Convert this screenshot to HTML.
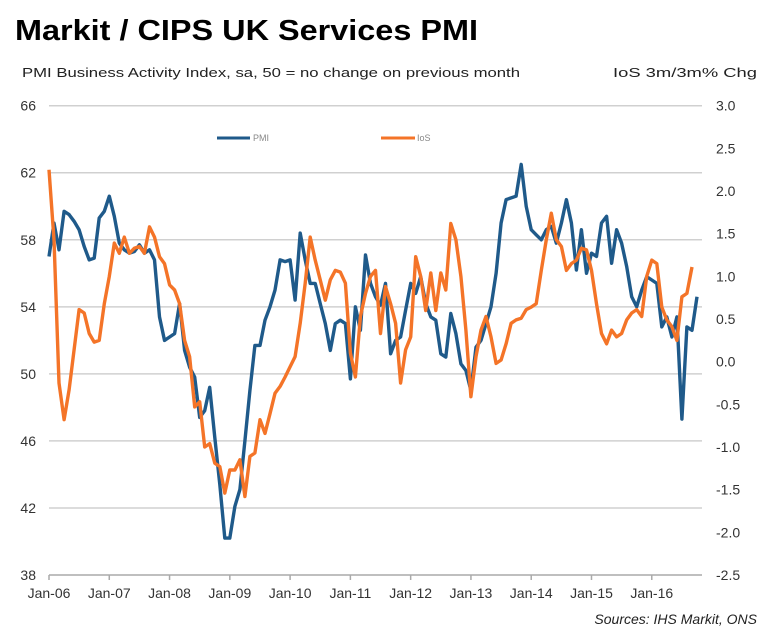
<!DOCTYPE html>
<html><head><meta charset="utf-8"><style>
body{margin:0;background:#fff;font-family:"Liberation Sans",Arial,sans-serif;}
svg{display:block}
</style></head><body>
<svg id="chart" width="768" height="641" viewBox="0 0 768 641">
<text x="15" y="40" font-size="29" font-weight="bold" textLength="463" lengthAdjust="spacingAndGlyphs" fill="#000">Markit / CIPS UK Services PMI</text>
<text x="22" y="77" font-size="13" textLength="498" lengthAdjust="spacingAndGlyphs" fill="#222">PMI Business Activity Index, sa, 50 = no change on previous month</text>
<text x="613" y="77" font-size="13" textLength="144" lengthAdjust="spacingAndGlyphs" fill="#222">IoS 3m/3m% Chg</text>
<g id="grid"></g>
<g id="axes"></g>
<g id="series"></g>
<g>
<line x1="217" y1="138" x2="250" y2="138" stroke="#1f5a8a" stroke-width="3"/>
<text x="253" y="141" font-size="9" fill="#888">PMI</text>
<line x1="381" y1="138" x2="415" y2="138" stroke="#f47428" stroke-width="3"/>
<text x="417" y="141" font-size="9" fill="#888">IoS</text>
</g>
<text x="757" y="624" font-size="14" font-style="italic" text-anchor="end" fill="#222">Sources: IHS Markit, ONS</text>
</svg>
<script>
const leftTicks=[38,42,46,50,54,58,62,66];
const rightTicks=[-2.5,-2.0,-1.5,-1.0,-0.5,0.0,0.5,1.0,1.5,2.0,2.5,3.0];
const xLabels=["Jan-06","Jan-07","Jan-08","Jan-09","Jan-10","Jan-11","Jan-12","Jan-13","Jan-14","Jan-15","Jan-16"];
const pmi=[57.0,59.0,57.4,59.7,59.5,59.1,58.6,57.6,56.8,56.9,59.3,59.7,60.6,59.4,57.8,57.4,57.2,57.3,57.7,57.2,57.4,56.8,53.4,52.0,52.2,52.4,54.2,51.4,50.4,49.8,47.4,47.8,49.2,46.2,43.4,40.2,40.2,42.1,43.1,46.0,49.0,51.7,51.7,53.2,54.0,55.0,56.8,56.7,56.8,54.4,58.4,56.8,55.4,55.4,54.2,53.0,51.4,53.0,53.2,53.0,49.7,54.0,52.6,57.1,55.4,54.6,54.1,55.4,51.2,52.0,52.2,53.8,55.4,54.8,55.8,54.2,53.4,53.2,51.2,51.0,53.6,52.4,50.6,50.2,49.0,51.6,52.0,53.0,54.0,56.0,59.0,60.4,60.5,60.6,62.5,60.0,58.6,58.3,58.0,58.6,58.8,57.8,59.0,60.4,59.0,56.2,58.6,56.0,57.2,57.0,59.0,59.4,56.6,58.6,57.8,56.4,54.6,54.0,55.0,55.8,55.6,55.4,52.8,53.4,52.2,53.4,47.3,52.8,52.6,54.6];
const ios=[2.25,1.43,-0.25,-0.68,-0.33,0.14,0.61,0.57,0.33,0.23,0.25,0.68,1.0,1.39,1.27,1.46,1.27,1.33,1.35,1.27,1.58,1.46,1.23,1.15,0.90,0.84,0.68,0.25,0.06,-0.53,-0.47,-1.0,-0.96,-1.19,-1.23,-1.54,-1.27,-1.27,-1.15,-1.58,-1.11,-1.07,-0.68,-0.84,-0.61,-0.37,-0.29,-0.18,-0.06,0.06,0.45,0.92,1.46,1.19,0.96,0.72,0.96,1.07,1.05,0.92,0.10,-0.18,0.53,0.80,1.0,1.07,0.33,0.88,0.68,0.45,-0.25,0.14,0.29,1.23,1.0,0.6,1.04,0.6,1.04,0.84,1.62,1.43,1.0,0.37,-0.41,0.06,0.37,0.53,0.29,-0.02,0.02,0.21,0.45,0.49,0.51,0.61,0.64,0.68,1.07,1.43,1.74,1.43,1.35,1.07,1.15,1.19,1.33,1.31,1.07,0.68,0.33,0.21,0.37,0.29,0.33,0.49,0.57,0.61,0.53,1.0,1.19,1.15,0.64,0.49,0.41,0.25,0.76,0.80,1.11];

const NS='http://www.w3.org/2000/svg';
const X0=49,X1=702,MONTHS=130;
const xScale=m=>X0+m*(X1-X0)/MONTHS;
const yL=v=>105.7+(66-v)*(575-105.7)/28;
const yR=v=>105.7+(3-v)*(575-105.7)/5.5;
function mk(tag,attrs,parent){const e=document.createElementNS(NS,tag);for(const k in attrs)e.setAttribute(k,attrs[k]);parent.appendChild(e);return e;}
const grid=document.getElementById('grid'),axes=document.getElementById('axes'),series=document.getElementById('series');
leftTicks.forEach(v=>{
  if(v>38){const l=mk('line',{x1:X0,x2:X1,y1:yL(v),y2:yL(v),stroke:'#d0d0d0','stroke-width':1.5},grid);
  
  }
  const t=mk('text',{x:36,y:yL(v)+5,'font-size':14,'text-anchor':'end',fill:'#333'},axes);t.textContent=v;
  
  
});
rightTicks.forEach(v=>{
  const t=mk('text',{x:716,y:yR(v)+5,'font-size':14,fill:'#333'},axes);t.textContent=(v<0?'-':'')+Math.abs(v).toFixed(1);
  
  
});
const base=mk('line',{x1:X0,x2:X1,y1:575,y2:575,stroke:'#aaa','stroke-width':1.5},axes);


xLabels.forEach((s,i)=>{
  const x=xScale(i*12);
  const tk=mk('line',{x1:x,x2:x,y1:575,y2:580,stroke:'#aaa','stroke-width':1.5},axes);
  
  
  const t=mk('text',{x:x,y:598,'font-size':14,'text-anchor':'middle',fill:'#333'},axes);t.textContent=s;
  
  
});
function path(arr,ys){return arr.map((v,i)=>(i?'L':'M')+xScale(i).toFixed(1)+','+ys(v).toFixed(1)).join('');}
const pp=mk('path',{d:path(pmi,yL),fill:'none',stroke:'#1f5a8a','stroke-width':3.4,'stroke-linejoin':'round'},series);


const ip=mk('path',{d:path(ios,yR),fill:'none',stroke:'#f47428','stroke-width':3.4,'stroke-linejoin':'round'},series);


</script>
</body></html>
